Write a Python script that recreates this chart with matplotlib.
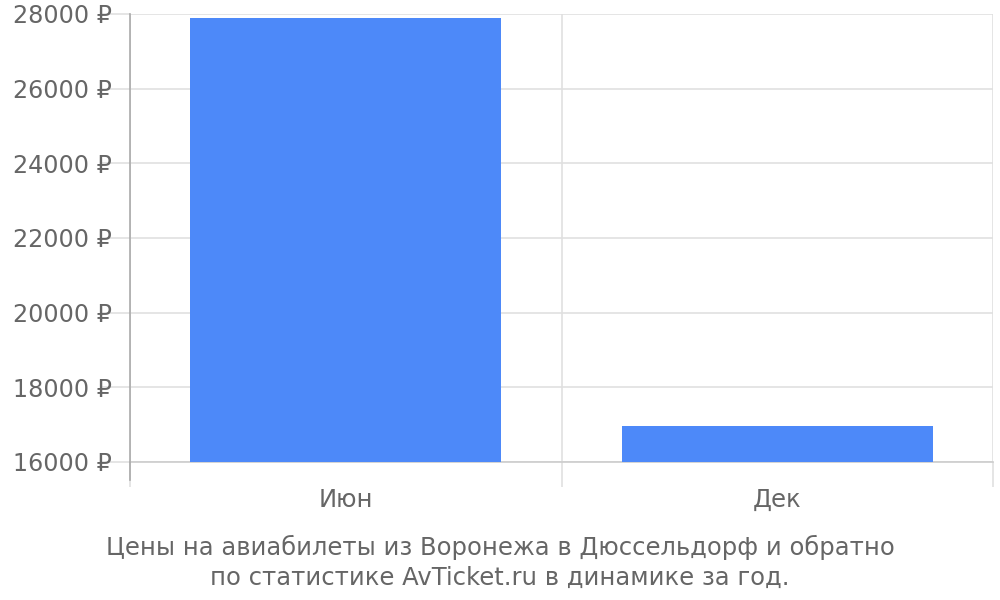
import matplotlib.pyplot as plt

plt.rcParams['font.family'] = 'DejaVu Sans'

months = ['Июн', 'Дек']
prices = [27900, 16960]
y_ticks = [16000, 18000, 20000, 22000, 24000, 26000, 28000]
caption = 'Цены на авиабилеты из Воронежа в Дюссельдорф и обратно\nпо статистике AvTicket.ru в динамике за год.'

fig = plt.figure(figsize=(10, 6), dpi=100, facecolor='white')
ax = fig.add_axes([0.13, 0.23, 0.863, 0.7467])

pos = [i + 0.5 for i in range(len(months))]
ax.bar(pos, [p - y_ticks[0] for p in prices], bottom=y_ticks[0], width=0.72,
       color='#4d89f9', zorder=3)

ax.set_xlim(0, len(months))
ax.set_ylim(y_ticks[0], y_ticks[-1])

# сетка и подписи
ax.set_yticks(y_ticks)
ax.set_yticklabels([f'{v} ₽' for v in y_ticks])
ax.set_xticks(range(len(months) + 1))
ax.set_xticklabels([])
ax.set_xticks(pos, minor=True)
ax.set_xticklabels(months, minor=True)
ax.grid(True, which='major', color='#e0e0e0', linewidth=1.2, zorder=0)

ax.tick_params(axis='y', length=20, width=1.2, color='#e0e0e0',
               labelsize=17.2, labelcolor='#666666', pad=-7)
ax.tick_params(axis='x', which='major', length=18, width=1.2, color='#e0e0e0')
ax.tick_params(axis='x', which='minor', length=0, labelsize=17.5,
               labelcolor='#666666', pad=19)

for s in ['top', 'right']:
    ax.spines[s].set_visible(False)
ax.spines['bottom'].set_color('#cccccc')
ax.spines['bottom'].set_linewidth(1.2)
ax.spines['left'].set_color('#aaaaaa')
ax.spines['left'].set_linewidth(1.2)
ax.spines['left'].set_bounds(y_ticks[0], y_ticks[-1])
ax.plot([0, 0], [y_ticks[0], y_ticks[0] - 480], color='#aaaaaa',
        linewidth=1.2, clip_on=False, zorder=4)

fig.text(0.5, 0.063, caption, ha='center', va='center', fontsize=17.5,
         color='#666666', linespacing=1.3)

fig.savefig('out.png', dpi=100, facecolor='white')
